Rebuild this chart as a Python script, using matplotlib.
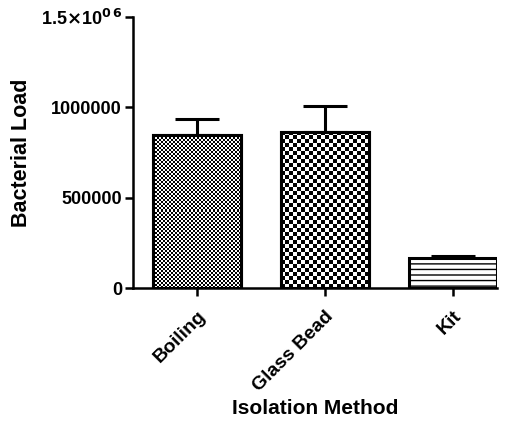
import numpy as np
import matplotlib
matplotlib.use('Agg')
import matplotlib.pyplot as plt

methods = ['Boiling', 'Glass Bead', 'Kit']
load = [845000, 862000, 166000]
load_err = [90000, 143000, 10000]
ytick_vals = [0, 500000, 1000000, 1500000]
ytick_labels = ['0', '500000', '1000000', r'1.5$\times$10$^{0\,6}$']

plt.rcParams['font.family'] = ['Liberation Sans', 'DejaVu Sans']
plt.rcParams['font.weight'] = 'bold'
plt.rcParams['mathtext.default'] = 'bf'

fig = plt.figure(figsize=(5.1, 4.25), dpi=100)
ax = fig.add_axes([0.261, 0.322, 0.714, 0.639])

x = np.arange(len(methods))
w = 0.6875
ax.set_xlim(-0.5, 2.345)
ax.set_ylim(0, 1500000)

# error bars (upper only)
ax.errorbar(x, load, yerr=[np.zeros(len(load)), load_err], fmt='none', ecolor='black',
            elinewidth=2.2, capsize=16, capthick=2.2, zorder=1)

bars = ax.bar(x, load, width=w, color='white', edgecolor='black', linewidth=2.2, zorder=2)
bars[2].set_hatch('---')

# checkerboard fills for first two bars (cell size in px)
cells = [2, 4]
fig.canvas.draw()
for b, c in zip(bars[:2], cells):
    bx, by = b.get_x(), b.get_y()
    bw, bh = b.get_width(), b.get_height()
    p0 = ax.transData.transform((bx, by))
    p1 = ax.transData.transform((bx + bw, by + bh))
    nc = max(int(round((p1[0] - p0[0]) / c)), 1)
    nr = max(int(round((p1[1] - p0[1]) / c)), 1)
    board = (np.indices((nr, nc)).sum(axis=0) % 2).astype(float)
    im = ax.imshow(board, cmap='gray', extent=(bx, bx + bw, by, by + bh), aspect='auto',
                   interpolation='nearest', zorder=2.5, origin='lower')
    im.set_clip_path(b)
    ax.bar(bx + bw / 2, bh, width=bw, color='none', edgecolor='black', linewidth=2.2, zorder=3)

ax.set_xlim(-0.5, 2.345)
ax.set_ylim(0, 1500000)

ax.spines['top'].set_visible(False)
ax.spines['right'].set_visible(False)
ax.spines['left'].set_linewidth(1.8)
ax.spines['bottom'].set_linewidth(1.8)
ax.tick_params(width=1.8, length=6, pad=2)
ax.tick_params(axis='x', pad=8)

ax.set_yticks(ytick_vals)
ax.set_yticklabels(ytick_labels, fontsize=13, fontweight='bold')
ax.set_xticks(x)
ax.set_xticklabels(methods, rotation=45, ha='right', rotation_mode='anchor',
                   fontsize=14, fontweight='bold')

ax.set_ylabel('Bacterial Load', fontsize=15.5, fontweight='bold', labelpad=6)
ax.set_xlabel('Isolation Method', fontsize=15, fontweight='bold', labelpad=3)

fig.savefig('out.png', dpi=100)
